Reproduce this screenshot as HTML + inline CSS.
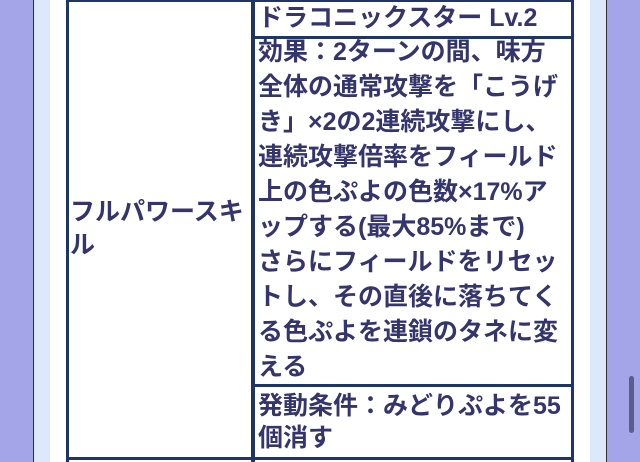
<!DOCTYPE html>
<html><head><meta charset="utf-8"><style>
body{margin:0;width:640px;height:462px;overflow:hidden;background:#fff;position:relative;font-family:"Liberation Sans","Noto Sans CJK JP",sans-serif;font-weight:bold;color:#35356e}
.a{position:absolute}
.t{position:absolute;left:258px;font-size:25px;line-height:35px;white-space:nowrap;letter-spacing:0px}
</style></head><body>
<div class="a" style="left:0;top:0;width:33px;height:462px;background:#a3a5e8"></div>
<div class="a" style="left:33px;top:0;width:1px;height:462px;background:#333"></div>
<div class="a" style="left:34px;top:0;width:16px;height:462px;background:#dde9fb"></div>
<div class="a" style="left:590px;top:0;width:16px;height:462px;background:#dde9fb"></div>
<div class="a" style="left:606px;top:0;width:1px;height:462px;background:#333"></div>
<div class="a" style="left:607px;top:0;width:33px;height:462px;background:#a3a5e8"></div>
<div class="a" style="left:629px;top:376px;width:5px;height:57px;border-radius:3px;background:#5a5c8c"></div>
<div class="a" style="left:66px;top:0;width:507px;height:2px;background:#1f3566"></div>
<div class="a" style="left:66px;top:0;width:3px;height:462px;background:#1f3566"></div>
<div class="a" style="left:251px;top:0;width:4px;height:462px;background:#1f3566"></div>
<div class="a" style="left:571px;top:0;width:3px;height:462px;background:#1f3566"></div>
<div class="a" style="left:253px;top:36px;width:320px;height:3px;background:#1f3566"></div>
<div class="a" style="left:253px;top:384px;width:320px;height:3px;background:#1f3566"></div>
<div class="a" style="left:66px;top:457px;width:507px;height:3px;background:#1f3566"></div>
<div class="t" style="top:1px">ドラコニックスター Lv.2</div>
<div class="t" style="top:35px">効果：2ターンの間、味方<br>全体の通常攻撃を「こうげ<br>き」×2の2連続攻撃にし、<br>連続攻撃倍率をフィールド<br>上の色ぷよの色数×17%ア<br>ップする(最大85%まで)<br>さらにフィールドをリセッ<br>トし、その直後に落ちてく<br>る色ぷよを連鎖のタネに変<br>える</div>
<div class="t" style="top:390px;line-height:32px">発動条件：みどりぷよを55<br>個消す</div>
<div class="t" style="left:70px;top:196px;line-height:33px">フルパワースキ<br>ル</div>
</body></html>
